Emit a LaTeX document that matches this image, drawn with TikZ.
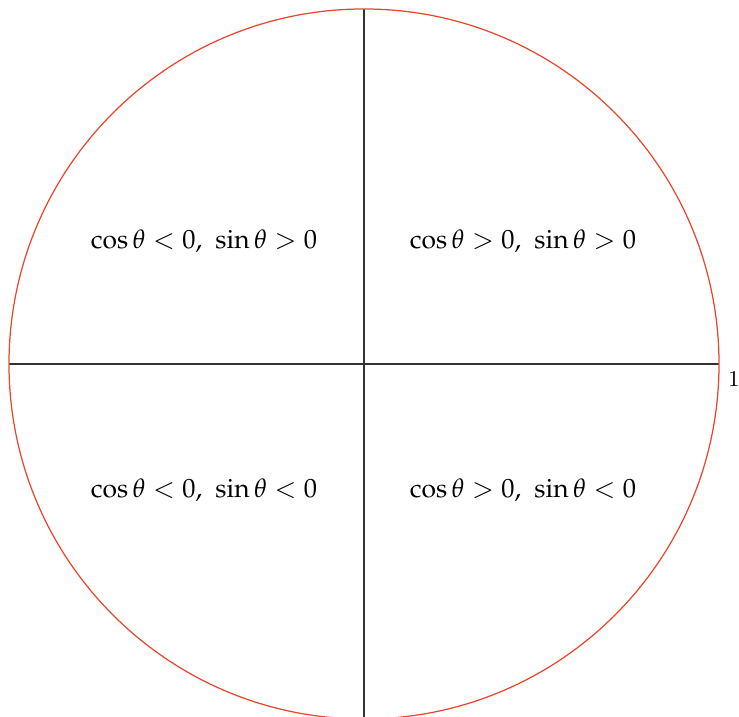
\documentclass[tikz,border=0pt]{standalone}
\usepackage{mathpazo}
\begin{document}
\begin{tikzpicture}[x=0.4pt,y=-0.4pt,
  axis/.style={draw=black!80,line width=0.45pt},
  unitcircle/.style={draw={rgb,255:red,232;green,72;blue,46},line width=0.5pt},
  region/.style={font=\fontsize{10.55}{12.5}\selectfont,inner sep=1pt}]
\useasboundingbox (0,0) rectangle (739,717);
\clip (0,0) rectangle (739,717);
\coordinate (O) at (364,364);
\coordinate (L) at (9,364);
\coordinate (R) at (719,364);
\coordinate (T) at (364,9);
\coordinate (B) at (364,717);
\draw[axis] (L) -- (R);
\draw[axis] (T) -- (B);
\draw[unitcircle] (O) circle[radius=142pt];
\node[region] (q1) at (523,241) {$\cos\theta>0,\ \sin\theta>0$};
\node[region] (q2) at (204,241) {$\cos\theta<0,\ \sin\theta>0$};
\node[region] (q3) at (204,490) {$\cos\theta<0,\ \sin\theta<0$};
\node[region] (q4) at (523,490) {$\cos\theta>0,\ \sin\theta<0$};
\node[font=\small,inner sep=1pt] (one) at (734,379) {1};
\end{tikzpicture}
\end{document}
